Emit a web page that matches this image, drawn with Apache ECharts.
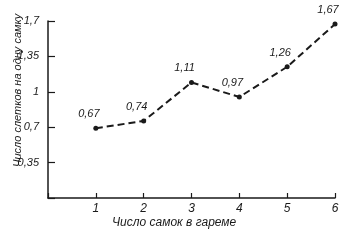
<!DOCTYPE html>
<html><head><meta charset="utf-8">
<script src="https://cdn.jsdelivr.net/npm/echarts@6/dist/echarts.min.js"></script>
<style>html,body{margin:0;padding:0;background:#fff}#c{width:360px;height:243px}</style>
</head><body><div id="c"></div>
<script>
var categories = [1, 2, 3, 4, 5, 6];
var values = [0.67, 0.74, 1.11, 0.97, 1.26, 1.67];
var yTickLabels = ['', '0,35', '0,7', '1', '1,35', '1,7'];
var xTitle = 'Число самок в гареме';
var yTitle = 'Число слетков на одну самку';

var FONT = '"Liberation Sans Narrow","Liberation Sans",sans-serif';
var INK = '#1a1a1a';
var chart = echarts.init(document.getElementById('c'), null, {renderer: 'canvas'});
chart.setOption({
  animation: false,
  backgroundColor: '#fff',
  grid: {left: 48, right: 25, top: 21, bottom: 45},
  xAxis: {
    type: 'value', min: 0, max: 6, interval: 1,
    axisLine: {lineStyle: {color: INK, width: 1.5}},
    axisTick: {inside: true, length: 5, lineStyle: {color: INK, width: 1.2}},
    axisLabel: {color: INK, fontFamily: FONT, fontStyle: 'italic', fontSize: 12, margin: 5,
      formatter: function (v) { return v === 0 ? '' : String(v); }},
    splitLine: {show: false}
  },
  yAxis: {
    type: 'value', min: 0, max: 1.7, interval: 0.34,
    axisLine: {show: true, lineStyle: {color: INK, width: 1.5}},
    axisTick: {show: true, inside: true, length: 7, lineStyle: {color: INK, width: 1.2}},
    axisLabel: {color: INK, fontFamily: FONT, fontStyle: 'italic', fontSize: 11, margin: 9,
      formatter: function (v) { return yTickLabels[Math.round(v / 0.34)] || ''; }},
    splitLine: {show: false}
  },
  graphic: [
    {type: 'text', left: 112, top: 217, style: {text: xTitle, fill: INK, font: 'italic 12px ' + FONT}},
    {type: 'text', x: 12, y: 167, rotation: Math.PI / 2,
      style: {text: yTitle, fill: INK, font: 'italic 11px ' + FONT}}
  ],
  series: [{
    type: 'line',
    data: categories.map(function (c, i) { return [c, values[i]]; }),
    lineStyle: {color: INK, width: 2, type: [7, 4]},
    symbol: 'circle', symbolSize: 5,
    itemStyle: {color: INK},
    label: {show: true, position: 'top', offset: [-7, -1], color: INK,
      fontFamily: FONT, fontStyle: 'italic', fontSize: 11,
      formatter: function (p) { return String(p.value[1]).replace('.', ','); }}
  }]
});
</script></body></html>
